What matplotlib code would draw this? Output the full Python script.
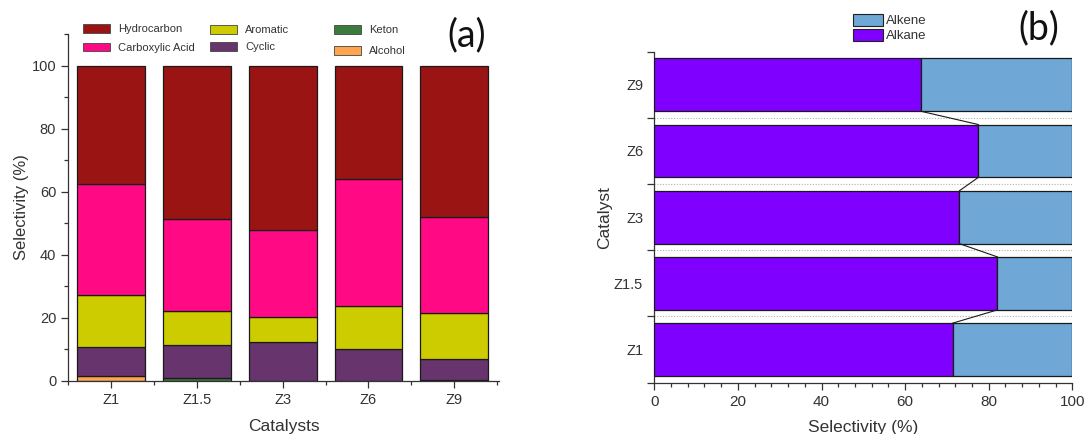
import matplotlib
matplotlib.use("Agg")
import matplotlib.pyplot as plt
from matplotlib.patches import Patch
from matplotlib.ticker import MultipleLocator, FixedLocator, NullFormatter
import numpy as np

plt.rcParams['font.family'] = ['Liberation Sans', 'DejaVu Sans']

# ---- panel (a): product selectivity per catalyst ----
catalysts = ["Z1", "Z1.5", "Z3", "Z6", "Z9"]
alcohol = [1.6, 0.0, 0.0, 0.0, 0.0]
keton = [0.0, 1.0, 0.0, 0.0, 0.3]
cyclic = [9.2, 10.2, 12.2, 10.2, 6.5]
aromatic = [16.4, 11.0, 7.9, 13.4, 14.8]
carboxylic = [35.4, 29.2, 27.7, 40.4, 30.5]
hydrocarbon = [37.4, 48.6, 52.2, 36.0, 47.9]

# ---- panel (b): alkane / alkene split of the hydrocarbons ----
alkane = [71.4, 82.1, 73.0, 77.5, 63.8]
alkene = [100 - v for v in alkane]

col_hydro = "#9a1414"
col_carb = "#ff0a84"
col_arom = "#cccc00"
col_cycl = "#67346e"
col_ket = "#3b7b3b"
col_alc = "#ffa550"
col_alkane = "#7f00ff"
col_alkene = "#6fa7d6"

W, H = 1089, 434
fig = plt.figure(figsize=(W / 100, H / 100), dpi=100)

def fx(px):
    return px / W

def fy(py):
    return 1 - py / H

# ---------- (a) ----------
axa = fig.add_axes([fx(68), fy(380.7), fx(499 - 68), (380.7 - 34.3) / H])
x = np.arange(1, len(catalysts) + 1)
layers = [
    (alcohol, col_alc),
    (keton, col_ket),
    (cyclic, col_cycl),
    (aromatic, col_arom),
    (carboxylic, col_carb),
    (hydrocarbon, col_hydro),
]
bottom = np.zeros(len(catalysts))
for vals, c in layers:
    v = np.array(vals, dtype=float)
    mask = v > 0
    axa.bar(x[mask], v[mask], bottom=bottom[mask], width=0.79, color=c,
            edgecolor="#1a1a1a", linewidth=0.9)
    bottom += v

axa.set_xlim(0.5, 5.52)
axa.set_ylim(0, 110)
axa.set_xticks(x)
axa.set_xticklabels(catalysts, fontsize=10.5, color="#333333")
axa.xaxis.set_minor_locator(FixedLocator(np.arange(0.5, 6.0, 1.0)))
axa.set_yticks([0, 20, 40, 60, 80, 100])
axa.yaxis.set_minor_locator(MultipleLocator(10))
axa.tick_params(axis='y', labelsize=10.5, labelcolor="#333333")
axa.tick_params(which='major', length=5, width=0.9, direction='out', color="#333333")
axa.tick_params(which='minor', length=3, width=0.9, direction='out', color="#333333")
for s in ["top", "right"]:
    axa.spines[s].set_visible(False)
for s in ["left", "bottom"]:
    axa.spines[s].set_linewidth(0.9)
    axa.spines[s].set_color("#333333")
axa.set_xlabel("Catalysts", fontsize=12.5, color="#333333", labelpad=9)
axa.set_ylabel("Selectivity (%)", fontsize=12, color="#333333", labelpad=2)

leg_kw = dict(frameon=False, fontsize=8, handlelength=2.45, handleheight=0.85,
              handletextpad=0.7, borderpad=0, borderaxespad=0,
              bbox_transform=fig.transFigure, loc="upper left")
groups = [
    ([("Hydrocarbon", col_hydro), ("Carboxylic Acid", col_carb)], (83, 24), 0.75),
    ([("Aromatic", col_arom), ("Cyclic", col_cycl)], (210, 25), 0.6),
    ([("Keton", col_ket), ("Alcohol", col_alc)], (334, 25), 0.95),
]
for entries, (px, py), sp in groups:
    handles = [Patch(facecolor=c, edgecolor="#444444", linewidth=0.6, label=l)
               for l, c in entries]
    lg = fig.legend(handles=handles, bbox_to_anchor=(fx(px), fy(py)),
                    labelspacing=sp, **leg_kw)
    for t in lg.get_texts():
        t.set_color("#333333")

fig.text(fx(447), fy(46), "(a)", fontsize=27, family=["Lato", "DejaVu Sans"],
         color="#111111", ha="left", va="baseline")

# ---------- (b) ----------
axb = fig.add_axes([fx(654.3), fy(382.7), fx(1072.3 - 654.3), (382.7 - 51.7) / H])
y = np.arange(1, len(catalysts) + 1)
h = 0.8
axb.barh(y, alkane, height=h, color=col_alkane, edgecolor="#1a1a1a",
         linewidth=0.9, label="Alkane", zorder=3)
axb.barh(y, alkene, left=alkane, height=h, color=col_alkene,
         edgecolor="#1a1a1a", linewidth=0.9, label="Alkene", zorder=3)

# dotted separators between bars and connector lines between alkane ends
for b in np.arange(1.5, len(catalysts), 1.0):
    axb.plot([0, 100], [b, b], linestyle=(0, (1, 1.5)), color="#b0b0b0",
             linewidth=0.8, zorder=2)
for i in range(len(alkane) - 1):
    axb.plot([alkane[i], alkane[i + 1]], [y[i] + h / 2, y[i + 1] - h / 2],
             color="#1a1a1a", linewidth=0.8, zorder=4)

axb.set_xlim(0, 100)
axb.set_ylim(0.5, 5.5)
axb.set_xticks([0, 20, 40, 60, 80, 100])
axb.xaxis.set_minor_locator(MultipleLocator(4))
axb.set_yticks(np.arange(0.5, 6.0, 1.0))
axb.yaxis.set_major_formatter(NullFormatter())
axb.yaxis.set_minor_locator(FixedLocator(y))
axb.set_yticklabels(catalysts, minor=True, fontsize=10.5, color="#333333")
axb.tick_params(axis='y', which='minor', length=0, pad=8)
axb.tick_params(axis='y', which='major', length=5, width=0.9, direction='out', color="#333333")
axb.tick_params(axis='x', which='major', length=5, width=0.9, direction='out',
                labelsize=11, labelcolor="#333333", color="#333333")
axb.tick_params(axis='x', which='minor', length=3, width=0.9, direction='out', color="#333333")
for s in ["top", "right"]:
    axb.spines[s].set_visible(False)
for s in ["left", "bottom"]:
    axb.spines[s].set_linewidth(0.9)
    axb.spines[s].set_color("#333333")
axb.set_xlabel("Selectivity (%)", fontsize=12.5, color="#333333", labelpad=8)
axb.set_ylabel("Catalyst", fontsize=12.5, color="#333333", labelpad=1)

hb = [Patch(facecolor=col_alkene, edgecolor="#222222", linewidth=0.8, label="Alkene"),
      Patch(facecolor=col_alkane, edgecolor="#222222", linewidth=0.8, label="Alkane")]
lgb = fig.legend(handles=hb, frameon=False, fontsize=9.5, handlelength=2.3,
                 handleheight=1.0, handletextpad=0.2, labelspacing=0.1,
                 borderpad=0, borderaxespad=0, loc="upper left",
                 bbox_to_anchor=(fx(852.7), fy(14)), bbox_transform=fig.transFigure)
for t in lgb.get_texts():
    t.set_color("#333333")

fig.text(fx(1018), fy(39), "(b)", fontsize=27, family=["Lato", "DejaVu Sans"],
         color="#111111", ha="left", va="baseline")

fig.savefig("out.png", dpi=100, facecolor="white")
